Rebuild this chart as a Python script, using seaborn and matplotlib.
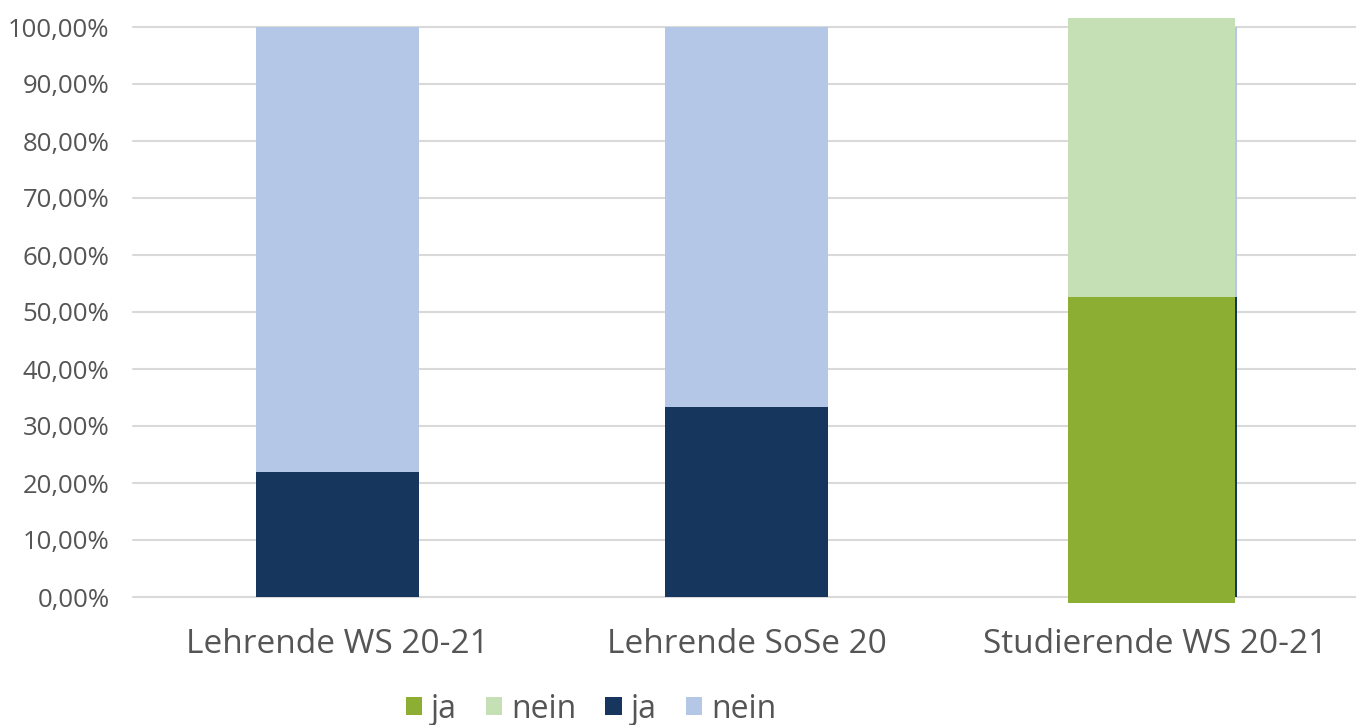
import matplotlib
matplotlib.use("Agg")
import matplotlib.pyplot as plt
from matplotlib.patches import Patch
import seaborn as sns
import pandas as pd

# Umfragedaten (Anteile in %)
categories = ["Lehrende WS 20-21", "Lehrende SoSe 20", "Studierende WS 20-21"]
blue_ja = [21.9, 33.3, 52.6]
blue_nein = [78.1, 66.7, 47.4]

# Studierende-Ergebnis (grün)
green_category = ["Studierende WS 20-21"]
green_ja = [52.3]
green_nein = [47.7]

legend_labels = ["ja", "nein", "ja", "nein"]

C_NAVY = "#17365D"
C_LBLUE = "#B4C7E7"
C_GREEN = "#8CAF33"
C_LGREEN = "#C5E0B4"
C_TEXT = "#555555"
C_GRID = "#D9D9D9"

sns.set_theme(style="white")
plt.rcParams["font.family"] = ["Open Sans", "DejaVu Sans"]

W, H = 1356, 725
fig = plt.figure(figsize=(W / 100, H / 100), dpi=100)
ax = fig.add_axes([133 / W, (H - 597) / H, 1227 / W, 570 / H])

df = pd.DataFrame({"Kategorie": categories, "ja": blue_ja, "nein": blue_nein})
df["gesamt"] = df["ja"] + df["nein"]

sns.barplot(data=df, x="Kategorie", y="gesamt", color=C_LBLUE, width=0.4,
            saturation=1, linewidth=0, ax=ax, zorder=2)
sns.barplot(data=df, x="Kategorie", y="ja", color=C_NAVY, width=0.4,
            saturation=1, linewidth=0, ax=ax, zorder=3)

ax.set_xlim(-0.5, 2.5)
ax.set_ylim(0, 100)
ax.set_yticks(range(0, 101, 10))
ax.set_yticklabels([f"{v},00%" for v in range(0, 101, 10)])
ax.yaxis.grid(True, color=C_GRID, linewidth=1.5, zorder=0)
ax.set_axisbelow(True)
for g in ax.get_ygridlines():
    g.set_clip_on(False)
for s in ax.spines.values():
    s.set_visible(False)
ax.set_xlabel("")
ax.set_ylabel("")
ax.tick_params(axis="y", length=0, pad=17, labelsize=18.5, labelcolor=C_TEXT)
ax.tick_params(axis="x", length=0, pad=22, labelsize=24, labelcolor=C_TEXT)

# Grüner Balken für die Studierenden, eigener Maßstab 0-100 %
ax2 = fig.add_axes([1068 / W, (H - 603) / H, 167 / W, 585 / H])
gdf = pd.DataFrame({"Kategorie": green_category, "ja": green_ja, "nein": green_nein})
gdf["gesamt"] = gdf["ja"] + gdf["nein"]
sns.barplot(data=gdf, x="Kategorie", y="gesamt", color=C_LGREEN, width=1,
            saturation=1, linewidth=0, ax=ax2)
sns.barplot(data=gdf, x="Kategorie", y="ja", color=C_GREEN, width=1,
            saturation=1, linewidth=0, ax=ax2)
ax2.set_xlim(-0.5, 0.5)
ax2.set_ylim(0, 100)
ax2.axis("off")

handles = [Patch(color=c, linewidth=0) for c in (C_GREEN, C_LGREEN, C_NAVY, C_LBLUE)]
fig.legend(handles, legend_labels, loc="center", bbox_to_anchor=(591 / W, 1 - 709 / H),
           ncol=4, frameon=False, fontsize=23, handlelength=0.52, handleheight=0.52,
           handletextpad=0.28, columnspacing=0.9, labelcolor=C_TEXT)

fig.savefig("out.png", dpi=100)
